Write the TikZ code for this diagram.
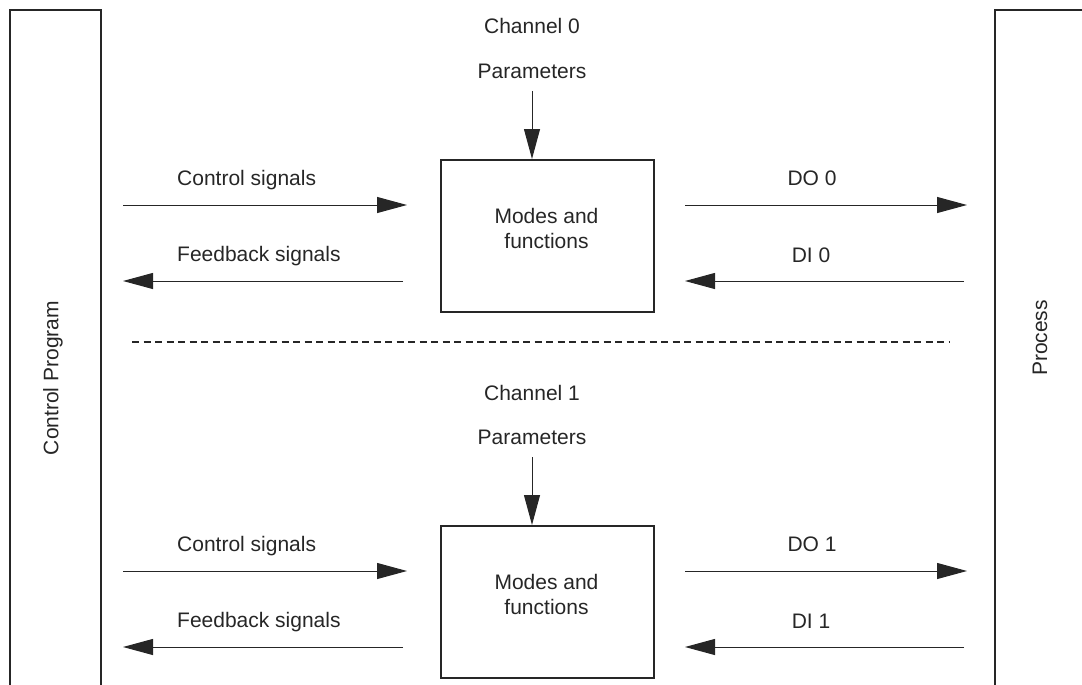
\documentclass[tikz,border=0pt]{standalone}
\usepackage{fontspec}
\setmainfont{Liberation Sans}
\usetikzlibrary{arrows.meta}
\begin{document}
\begin{tikzpicture}[x=1pt,y=-1pt,
  every node/.style={font=\fontsize{21}{25}\selectfont, inner sep=0pt, text=black!85},
  sig/.style={line width=1pt, draw=black!85, -{Triangle[length=30pt,width=16pt]}},
  frame/.style={line width=2pt, draw=black!85},
  fbox/.style={draw=black!85, line width=2pt, minimum width=213pt, minimum height=152pt, anchor=north west},
  lbl/.style={anchor=base},
  lblw/.style={anchor=base west},
  sep/.style={line width=2.5pt, draw=black!85, dash pattern=on 7pt off 4.5pt}]
\useasboundingbox (0,0) rectangle (1082,685);
% side frames
\coordinate (cpb1) at (10,690);
\coordinate (cpt1) at (10,10);
\coordinate (cpt2) at (101,10);
\coordinate (cpb2) at (101,690);
\draw[frame] (cpb1) -- (cpt1) -- (cpt2) -- (cpb2);
\coordinate (prb1) at (995,690);
\coordinate (prt1) at (995,10);
\coordinate (prt2) at (1090,10);
\draw[frame] (prb1) -- (prt1) -- (prt2);
\node[rotate=90] (cp) at (53,378) {Control Program};
\node[rotate=90] (proc) at (1040,338) {Process};

% ---------- Channel 0 ----------
\node[lbl] (ch0) at (532,34) {Channel 0};
\node[lbl] (par0) at (532,78) {Parameters};
\node[fbox] (box0) at (440,159) {};
\node[align=center] (mf0) at (546.5,228.5) {Modes and\\functions};
\coordinate (p0) at (532,91);
\draw[sig] (p0) -- (p0 |- box0.north);

\node[lblw] (csl0) at (177,185) {Control signals};
\coordinate (cs0a) at (123,205);
\coordinate (cs0b) at (407,205);
\draw[sig] (cs0a) -- (cs0b);

\node[lblw] (fbl0) at (177,261) {Feedback signals};
\coordinate (fb0a) at (403,281);
\coordinate (fb0b) at (123,281);
\draw[sig] (fb0a) -- (fb0b);

\node[lbl] (do0) at (812,185) {DO 0};
\coordinate (do0a) at (685,205);
\coordinate (do0b) at (967,205);
\draw[sig] (do0a) -- (do0b);

\node[lbl] (di0) at (811,262) {DI 0};
\coordinate (di0a) at (964,281);
\coordinate (di0b) at (685,281);
\draw[sig] (di0a) -- (di0b);

% separator
\coordinate (sepl) at (132,342);
\coordinate (sepr) at (950,342);
\draw[sep] (sepl) -- (sepr);

% ---------- Channel 1 ----------
\node[lbl] (ch1) at (532,400) {Channel 1};
\node[lbl] (par1) at (532,444) {Parameters};
\node[fbox] (box1) at (440,525) {};
\node[align=center] (mf1) at (546.5,594.5) {Modes and\\functions};
\coordinate (p1) at (532,457);
\draw[sig] (p1) -- (p1 |- box1.north);

\node[lblw] (csl1) at (177,551) {Control signals};
\coordinate (cs1a) at (123,571);
\coordinate (cs1b) at (407,571);
\draw[sig] (cs1a) -- (cs1b);

\node[lblw] (fbl1) at (177,627) {Feedback signals};
\coordinate (fb1a) at (403,647);
\coordinate (fb1b) at (123,647);
\draw[sig] (fb1a) -- (fb1b);

\node[lbl] (do1) at (812,551) {DO 1};
\coordinate (do1a) at (685,571);
\coordinate (do1b) at (967,571);
\draw[sig] (do1a) -- (do1b);

\node[lbl] (di1) at (811,628) {DI 1};
\coordinate (di1a) at (964,647);
\coordinate (di1b) at (685,647);
\draw[sig] (di1a) -- (di1b);
\end{tikzpicture}
\end{document}
